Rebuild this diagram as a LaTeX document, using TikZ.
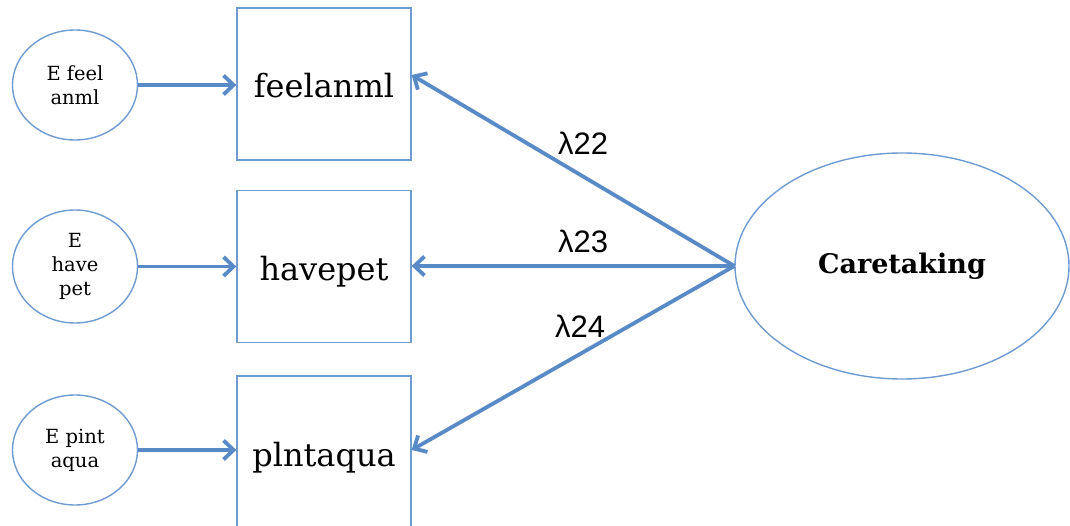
\documentclass[tikz,border=0pt]{standalone}
\usepackage{fontspec}
\setmainfont{DejaVu Serif}
\newfontfamily\lamfont{Liberation Sans}
\usetikzlibrary{shapes.geometric,arrows.meta}
\definecolor{sem}{RGB}{88,138,200}
\definecolor{semlight}{RGB}{110,155,210}
\begin{document}
\begin{tikzpicture}[x=1pt,y=-1pt,
  manifest/.style={draw=semlight, line width=1.4pt, minimum width=174pt, minimum height=152pt,
    inner sep=0pt, font=\fontsize{32}{38}\selectfont, text height=30pt, text depth=2pt},
  errterm/.style={ellipse, draw=semlight, line width=1.4pt, minimum width=125pt, minimum height=110pt,
    inner sep=0pt, align=center, font=\fontsize{19.5}{24}\selectfont},
  latent/.style={ellipse, draw=semlight, line width=1.4pt, minimum width=334pt, minimum height=226pt,
    inner sep=0pt, font=\fontsize{27}{32}\selectfont\bfseries},
  loadarrow/.style={draw=sem, line width=3.8pt, -{Straight Barb[length=10pt,width=19pt]}},
  coef/.style={font=\lamfont\fontsize{31}{34}\selectfont, inner sep=0pt}
]
\useasboundingbox (0,0) rectangle (1070,526);

% observed indicators
\node[manifest] (feel) at (324,84) {feelanml};
\node[manifest] (pet)  at (324,266.5) {havepet};
\node[manifest] (aqua) at (324,452) {plntaqua};

% error terms
\node[errterm] (e1) at (75,85) {E feel\\anml};
\node[errterm, minimum height=113pt] (e2) at (75,266.5) {E\\have\\pet};
\node[errterm] (e3) at (75,450) {E pint\\aqua};

% latent factor
\node[latent] (care) at (902,266) {Caretaking};

% error paths
\draw[loadarrow] (e1.east) -- (e1.east -| feel.west);
\draw[loadarrow] (e2.east) -- (e2.east -| pet.west);
\draw[loadarrow] (e3.east) -- (e3.east -| aqua.west);

% factor loadings
\draw[loadarrow] (care.west) -- ([yshift=9pt]feel.east);
\draw[loadarrow] (care.west) -- (care.west -| pet.east);
\draw[loadarrow] (care.west) -- ([yshift=2pt]aqua.east);

\node[coef] (l22) at (583,143) {λ22};
\node[coef] (l23) at (583,241) {λ23};
\node[coef] (l24) at (580,326) {λ24};
\end{tikzpicture}
\end{document}
